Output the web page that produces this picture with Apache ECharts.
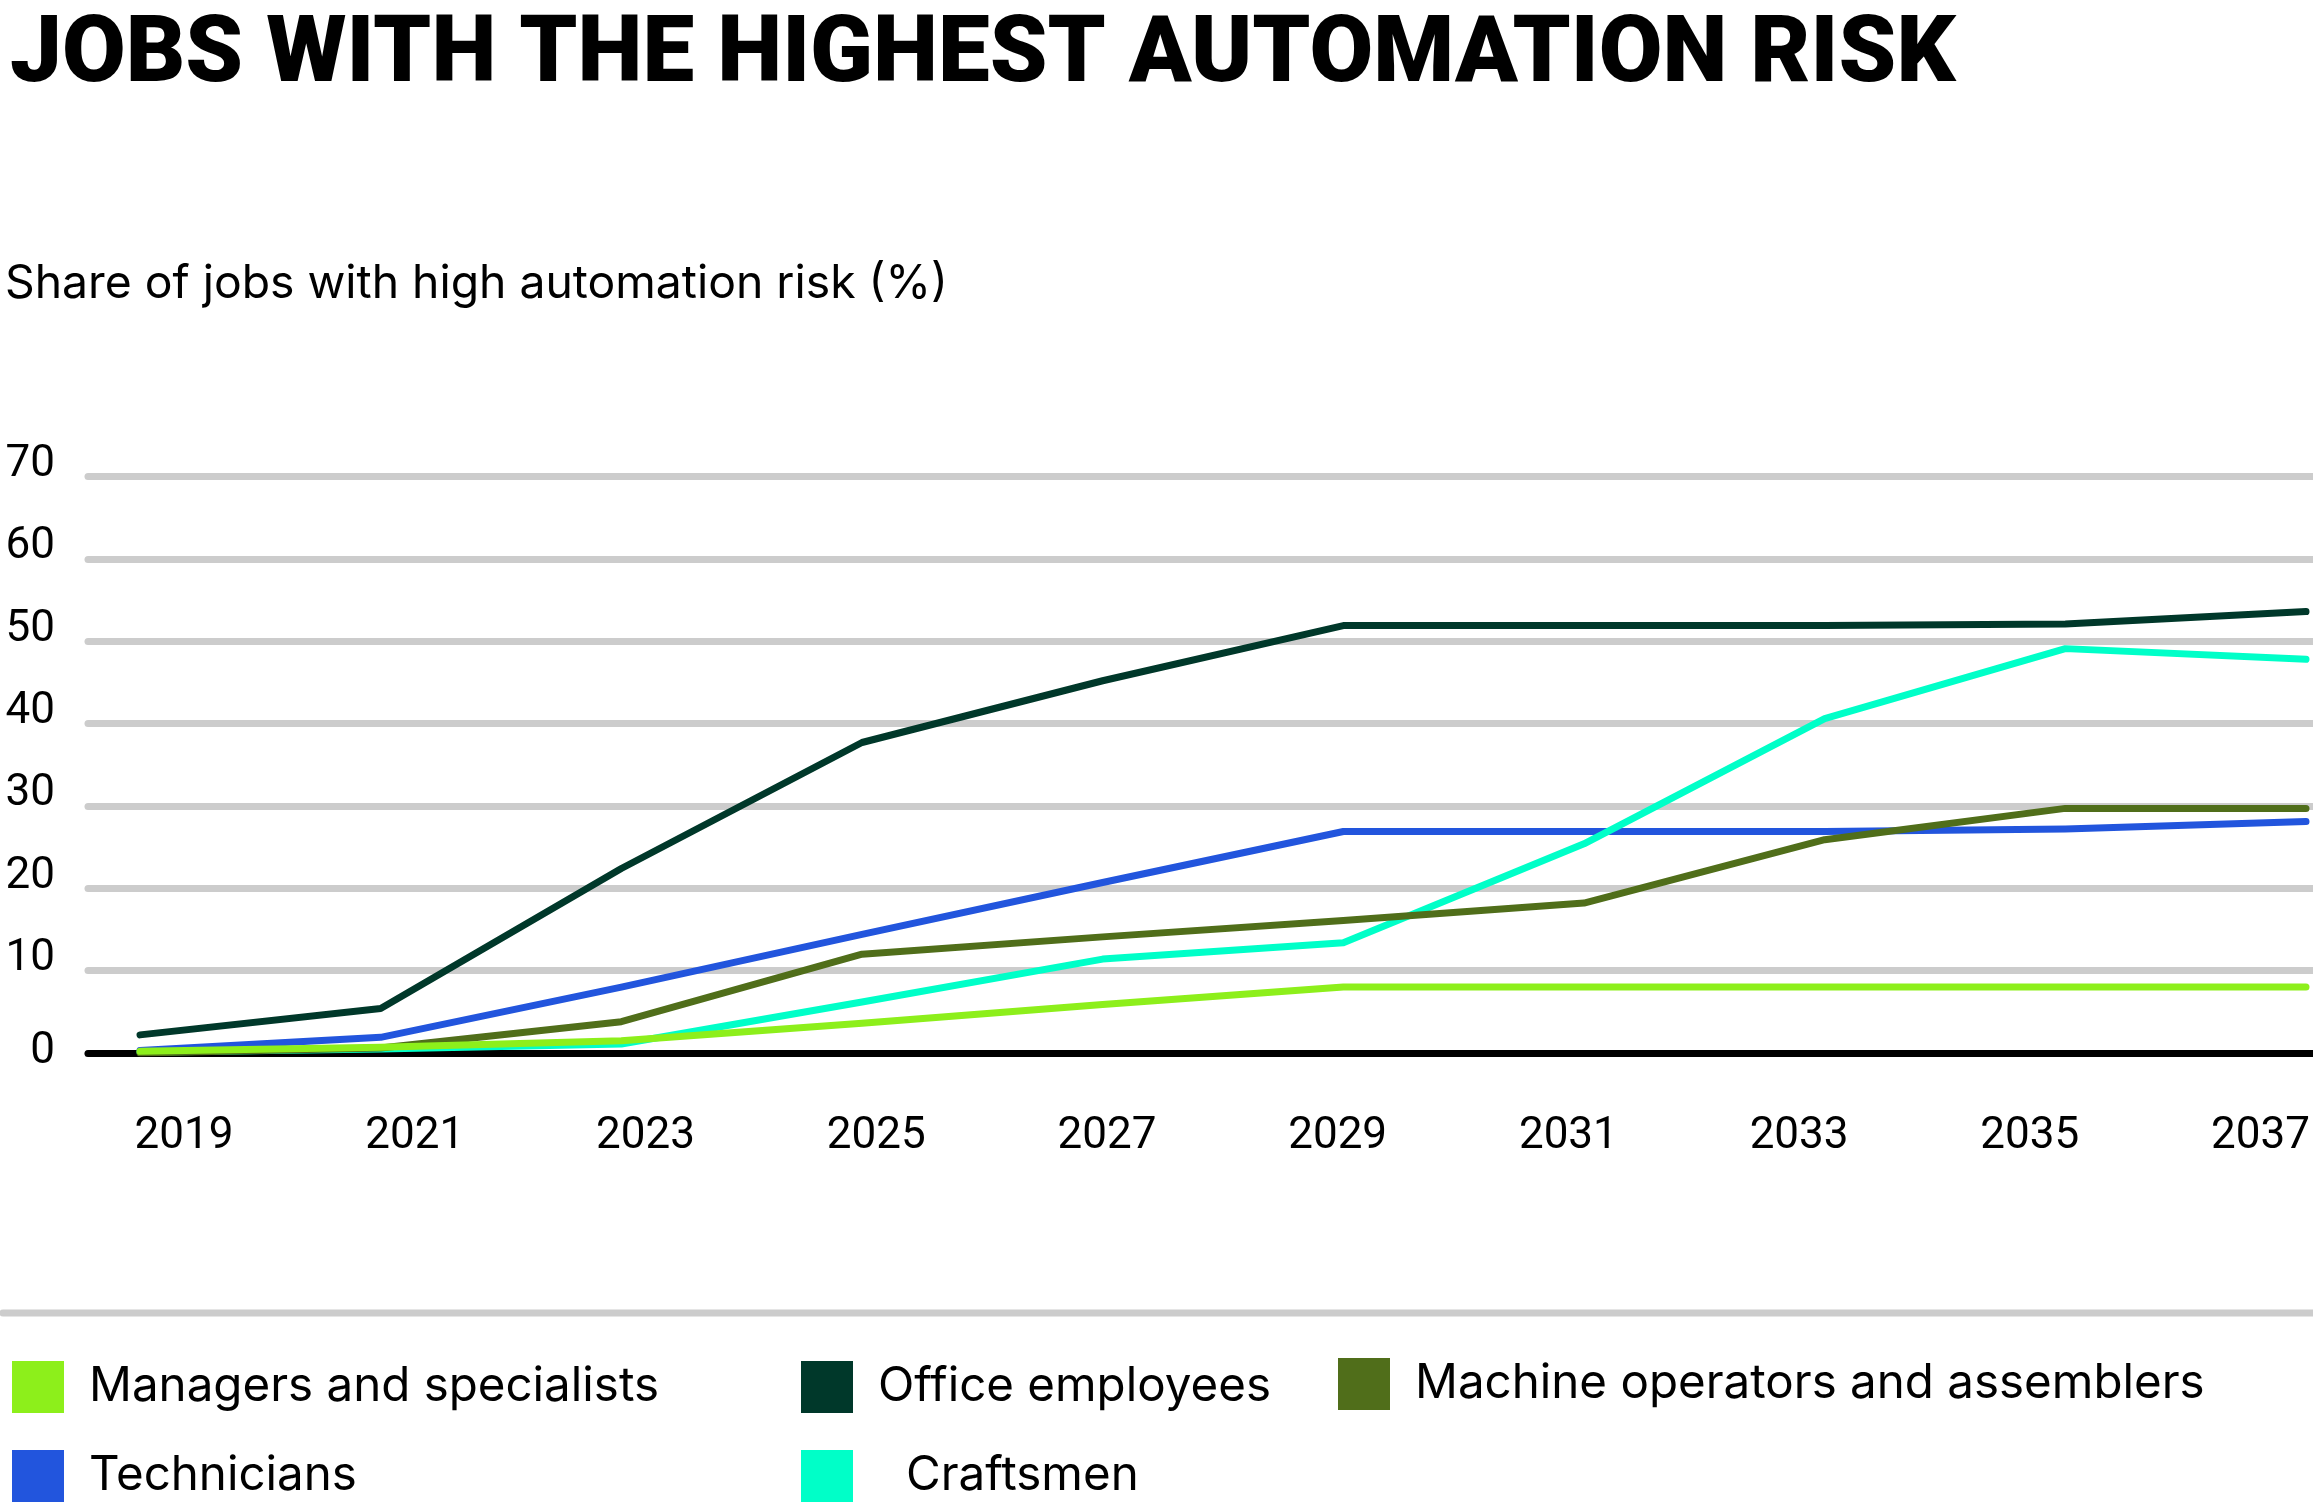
<!DOCTYPE html>
<html><head><meta charset="utf-8">
<script src="https://cdn.jsdelivr.net/npm/echarts@6/dist/echarts.min.js"></script>
<style>html,body{margin:0;padding:0;background:#fff}#c{width:2313px;height:1508px}</style>
</head><body><div id="c"></div>
<script>
const years = ['2019','2021','2023','2025','2027','2029','2031','2033','2035','2037'];
const seriesNames = ['Managers and specialists','Office employees','Machine operators and assemblers','Technicians','Craftsmen'];
const managers   = [0.2, 0.7, 1.5, 3.6, 5.9, 8.0, 8.0, 8.0, 8.0, 8.0];
const office     = [2.2, 5.4, 22.4, 37.7, 45.2, 51.9, 51.9, 51.9, 52.1, 53.6];
const machine    = [0.0, 0.6, 3.8, 12.0, 14.1, 16.1, 18.2, 25.9, 29.7, 29.7];
const technicians= [0.3, 1.9, 8.0, 14.4, 20.7, 26.9, 26.9, 26.9, 27.2, 28.1];
const craftsmen  = [0.1, 0.5, 1.1, 6.2, 11.4, 13.4, 25.4, 40.6, 49.1, 47.8];
const colors = ['#8DEF1B','#00382A','#506E1A','#2255DD','#00FFC8'];

const chart = echarts.init(document.getElementById('c'), null, {renderer:'canvas'});
const txtFont = 'Inter';
const numFont = 'Roboto';
const TOP = 476.5, BOTTOM = 455;

function lineSeries(name, data, color, z) {
  return {
    name, type:'line', data, xAxisIndex:1, yAxisIndex:1, symbol:'none', z,
    itemStyle:{color}, lineStyle:{color, width:7, cap:'round', join:'round'}, animation:false
  };
}
function legendItem(name, left, top, pad) {
  return {
    data:[name], left, top, orient:'horizontal', itemWidth:52, itemHeight:52, icon:'rect',
    padding:0, selectedMode:false,
    textStyle:{fontFamily:txtFont, fontSize:47.5, color:'#000', padding:[0,0,0,pad]}
  };
}

chart.setOption({
  animation:false,
  backgroundColor:'#fff',
  title:[
    {text:'JOBS WITH THE HIGHEST AUTOMATION RISK', left:5, top:7,
     textStyle:{fontFamily:numFont, fontWeight:900, fontSize:92.4, color:'#000'}},
    {text:'Share of jobs with high automation risk (%)', left:0, top:256,
     textStyle:{fontFamily:txtFont, fontWeight:400, fontSize:46.3, color:'#000'}}
  ],
  grid:[
    {left:88, right:0, top:TOP, bottom:BOTTOM},
    {left:140, right:7, top:TOP, bottom:BOTTOM},
    {left:184, right:52, top:TOP, bottom:BOTTOM}
  ],
  xAxis:[
    {gridIndex:0, type:'value', min:0, max:1, axisLine:{show:true, onZero:false, lineStyle:{color:'#000', width:7, cap:'round'}},
     axisTick:{show:false}, axisLabel:{show:false}, splitLine:{show:false}},
    {gridIndex:1, type:'category', data:years, boundaryGap:false, show:false},
    {gridIndex:2, type:'category', data:years, boundaryGap:false,
     axisLine:{show:false}, axisTick:{show:false}, splitLine:{show:false},
     axisLabel:{margin:62, fontFamily:numFont, fontSize:44, color:'#000', interval:0}}
  ],
  yAxis:[
    {gridIndex:0, type:'value', min:0, max:70, interval:10,
     axisLine:{show:false}, axisTick:{show:false},
     splitLine:{show:true, lineStyle:{color:'#cccccc', width:7, cap:'round'}},
     axisLabel:{margin:33, align:'right',
       formatter: v => v === 0 ? '{z|0}' : '{a|' + v + '}',
       rich:{
         a:{fontFamily:numFont, fontSize:44, color:'#000', padding:[0,0,23,0]},
         z:{fontFamily:numFont, fontSize:44, color:'#000', padding:[0,0,2,0]}
       }}},
    {gridIndex:1, type:'value', min:0, max:70, show:false, splitLine:{show:false}},
    {gridIndex:2, type:'value', min:0, max:70, show:false, splitLine:{show:false}}
  ],
  legend:[
    legendItem(seriesNames[0], 12, 1361, 20),
    legendItem(seriesNames[1], 801, 1361, 20),
    legendItem(seriesNames[2], 1338, 1358, 20),
    legendItem(seriesNames[3], 12, 1450, 20),
    legendItem(seriesNames[4], 801, 1450, 48)
  ],
  graphic:[
    {type:'line', shape:{x1:3, y1:1313, x2:2313, y2:1313}, style:{stroke:'#cccccc', lineWidth:7, lineCap:'round'}}
  ],
  series:[
    lineSeries(seriesNames[1], office, colors[1], 2),
    lineSeries(seriesNames[3], technicians, colors[3], 3),
    lineSeries(seriesNames[4], craftsmen, colors[4], 4),
    lineSeries(seriesNames[2], machine, colors[2], 5),
    lineSeries(seriesNames[0], managers, colors[0], 6)
  ]
});
</script></body></html>
